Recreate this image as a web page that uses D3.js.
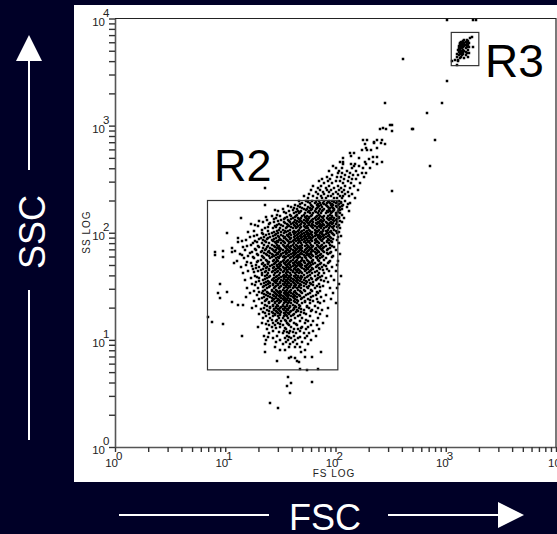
<!DOCTYPE html>
<html>
<head>
<title>FSC / SSC</title>
<meta charset="utf-8">
<script src="https://cdnjs.cloudflare.com/ajax/libs/d3/7.8.5/d3.min.js"></script>
<style>
  html, body { margin: 0; padding: 0; background: #000027; }
  svg { display: block; font-family: "Liberation Sans", Arial, sans-serif; }
</style>
</head>
<body>
<svg id="graph"></svg>
<script>

var width = 557
var height = 534

// log10 of the channel: [SS, [FS, FS, ...]]
var mainRows = [
  [3.21,[2.45]],[3.12,[2.83]],[3.01,[2.49,2.51]],[2.98,[2.43]],[2.97,[2.40,2.46,2.69,2.70]],[2.95,[2.51]],
  [2.87,[2.25,2.29,2.38,2.42,2.90]],[2.85,[2.35]],[2.84,[2.35,2.41]],[2.83,[2.27,2.45]],
  [2.79,[2.28,2.38]],[2.77,[2.24,2.29,2.32]],[2.74,[2.13,2.17]],[2.72,[2.14]],
  [2.71,[2.34,2.38]],[2.70,[2.07,2.21]],[2.69,[2.30]],
  [2.66,[2.04,2.07,2.27,2.34,2.42]],
  [2.64,[2.07,2.14,2.18,2.28,2.38]],
  [2.62,[1.98,2.17,2.21,2.86]],
  [2.60,[2.00,2.06,2.15,2.25,2.31]],
  [2.58,[1.94,2.03,2.10,2.19]],
  [2.56,[2.02,2.06,2.13,2.24,2.28]],
  [2.54,[1.97,2.09,2.16,2.20]],
  [2.52,[1.92,2.01,2.05,2.12,2.26]],
  [2.50,[1.88,1.95,2.08,2.15,2.19]],
  [2.48,[1.85,1.93,2.00,2.04,2.11]],
  [2.46,[1.90,1.97,2.07,2.14,2.22]],
  [2.44,[1.80,1.87,1.94,2.02,2.09,2.17]],
  [2.42,[1.36,1.84,1.91,1.99,2.05,2.13]],
  [2.40,[1.78,1.86,1.92,1.96,2.03,2.08,2.20]],
  [2.39,[2.51]],
  [2.38,[1.82,1.89,1.94,2.00,2.06,2.11]],
  [2.36,[1.76,1.84,1.90,1.98,2.02,2.09,2.15]],
  [2.34,[1.71,1.80,1.87,1.93,1.96,2.04,2.07,2.12]],
  [2.32,[1.75,1.83,1.88,1.91,1.99,2.01,2.06,2.18]],
  [2.30,[1.67,1.73,1.79,1.85,1.90,1.94,1.97,2.03,2.09]],
  [2.28,[1.70,1.77,1.81,1.86,1.89,1.92,1.95,2.00,2.05,2.13]],
  [2.26,[1.36,1.63,1.72,1.78,1.83,1.87,1.91,1.96,1.98,2.02,2.07]],
  [2.24,[1.60,1.68,1.75,1.80,1.84,1.88,1.93,1.97,2.01,2.04,2.10]],
  [2.22,[1.52,1.65,1.71,1.74,1.79,1.82,1.86,1.90,1.94,1.99,2.03,2.06]],
  [2.20,[1.48,1.58,1.66,1.69,1.76,1.81,1.85,1.88,1.92,1.95,1.98,2.02,2.12]],
  [2.18,[1.55,1.62,1.67,1.72,1.77,1.80,1.84,1.87,1.91,1.96,2.00,2.04]],
  [2.16,[1.42,1.50,1.60,1.64,1.70,1.74,1.78,1.83,1.86,1.90,1.93,1.97,2.01]],
  [2.14,[1.14,1.46,1.54,1.61,1.66,1.69,1.73,1.76,1.81,1.85,1.89,1.92,1.95,1.99,2.03,2.08]],
  [2.12,[1.38,1.51,1.57,1.63,1.68,1.71,1.75,1.79,1.82,1.87,1.90,1.94,1.98,2.00]],
  [2.10,[1.34,1.44,1.53,1.59,1.62,1.67,1.70,1.74,1.77,1.80,1.84,1.88,1.91,1.96,2.01,2.06]],
  [2.08,[1.23,1.40,1.49,1.56,1.60,1.65,1.69,1.72,1.76,1.79,1.83,1.86,1.89,1.93,1.97,2.00]],
  [2.06,[1.30,1.45,1.52,1.58,1.63,1.66,1.71,1.74,1.78,1.81,1.85,1.88,1.92,1.95,1.99,2.02]],
  [2.04,[1.36,1.43,1.50,1.55,1.61,1.64,1.68,1.73,1.75,1.80,1.83,1.87,1.90,1.94,1.98,2.04]],
  [2.02,[1.26,1.39,1.47,1.54,1.57,1.62,1.66,1.70,1.74,1.77,1.82,1.84,1.89,1.91,1.96,2.00]],
  [2.00,[1.02,1.33,1.42,1.48,1.53,1.59,1.63,1.67,1.71,1.75,1.78,1.81,1.86,1.88,1.93,1.97,2.01]],
  [1.98,[1.29,1.37,1.45,1.51,1.56,1.60,1.65,1.69,1.72,1.76,1.79,1.83,1.85,1.90,1.94,1.99]],
  [1.96,[1.22,1.35,1.41,1.49,1.54,1.58,1.62,1.66,1.70,1.73,1.77,1.80,1.84,1.87,1.91,1.95,2.02]],
  [1.95,[1.12]],
  [1.94,[1.31,1.38,1.44,1.50,1.55,1.59,1.63,1.67,1.71,1.74,1.78,1.82,1.86,1.89,1.93,1.98]],
  [1.92,[1.15,1.27,1.36,1.43,1.47,1.52,1.57,1.61,1.64,1.68,1.72,1.76,1.79,1.83,1.88,1.92,1.96]],
  [1.91,[1.12]],
  [1.90,[1.25,1.33,1.40,1.46,1.51,1.54,1.58,1.62,1.66,1.69,1.73,1.77,1.81,1.85,1.90,1.94,2.03]],
  [1.88,[1.20,1.30,1.39,1.44,1.49,1.53,1.56,1.60,1.65,1.68,1.72,1.75,1.80,1.84,1.87,1.91,1.97]],
  [1.86,[1.06,1.34,1.41,1.47,1.50,1.55,1.59,1.63,1.67,1.70,1.74,1.78,1.82,1.86,1.89,1.95]],
  [1.84,[1.18,1.28,1.36,1.43,1.46,1.52,1.57,1.61,1.64,1.69,1.72,1.76,1.79,1.83,1.88,1.92,2.00]],
  [1.83,[0.98]],
  [1.82,[0.91,1.06,1.24,1.32,1.39,1.45,1.49,1.54,1.58,1.62,1.66,1.71,1.74,1.78,1.81,1.85,1.90,1.96]],
  [1.80,[1.13,1.29,1.37,1.42,1.48,1.51,1.55,1.60,1.63,1.68,1.70,1.75,1.77,1.82,1.87,1.93,2.04]],
  [1.79,[0.91]],
  [1.78,[1.21,1.33,1.40,1.44,1.50,1.53,1.57,1.61,1.65,1.67,1.72,1.76,1.80,1.84,1.89,1.98]],
  [1.77,[0.98]],
  [1.76,[1.17,1.26,1.35,1.41,1.46,1.49,1.54,1.59,1.62,1.66,1.70,1.73,1.78,1.83,1.86,1.91]],
  [1.74,[1.11,1.30,1.38,1.43,1.48,1.52,1.56,1.60,1.64,1.69,1.71,1.75,1.79,1.85,1.95,2.02]],
  [1.72,[1.08,1.23,1.34,1.39,1.45,1.50,1.53,1.58,1.61,1.65,1.68,1.72,1.77,1.81,1.87,1.93]],
  [1.70,[1.19,1.28,1.36,1.42,1.47,1.51,1.55,1.59,1.63,1.67,1.70,1.74,1.78,1.84,1.90,2.01]],
  [1.68,[1.14,1.31,1.38,1.44,1.49,1.52,1.57,1.60,1.64,1.69,1.73,1.76,1.82,1.88,1.97]],
  [1.66,[1.25,1.34,1.40,1.46,1.50,1.54,1.58,1.62,1.66,1.71,1.75,1.80,1.86,1.92]],
  [1.64,[1.21,1.30,1.37,1.43,1.48,1.53,1.56,1.61,1.65,1.68,1.72,1.77,1.83,1.94,2.00]],
  [1.62,[1.16,1.33,1.39,1.45,1.50,1.55,1.59,1.63,1.67,1.70,1.74,1.79,1.85,1.90]],
  [1.60,[1.27,1.36,1.41,1.47,1.52,1.54,1.58,1.62,1.66,1.69,1.75,1.81,1.88,1.96,2.05]],
  [1.58,[1.23,1.31,1.38,1.44,1.49,1.53,1.57,1.60,1.64,1.68,1.72,1.78,1.84,1.91]],
  [1.56,[1.18,1.34,1.42,1.46,1.51,1.55,1.59,1.62,1.66,1.71,1.76,1.82,1.87,1.99]],
  [1.54,[1.28,1.37,1.40,1.45,1.50,1.54,1.57,1.61,1.65,1.70,1.74,1.80,1.93]],
  [1.52,[0.95,1.24,1.32,1.39,1.43,1.48,1.52,1.56,1.60,1.63,1.68,1.73,1.78,1.85,2.03]],
  [1.50,[1.35,1.41,1.46,1.51,1.55,1.58,1.62,1.67,1.71,1.76,1.83,1.89]],
  [1.48,[1.20,1.30,1.38,1.44,1.49,1.53,1.57,1.61,1.65,1.69,1.75,1.81,1.95,2.01]],
  [1.46,[1.26,1.34,1.42,1.47,1.50,1.54,1.59,1.63,1.68,1.72,1.79,1.86]],
  [1.45,[1.02]],
  [1.44,[0.93,1.22,1.33,1.39,1.45,1.49,1.53,1.56,1.60,1.64,1.70,1.77,1.84,1.98]],
  [1.42,[1.29,1.37,1.43,1.47,1.51,1.55,1.58,1.62,1.67,1.73,1.82,1.91]],
  [1.40,[1.19,1.35,1.41,1.46,1.50,1.53,1.57,1.61,1.65,1.71,1.78,1.87]],
  [1.39,[0.95]],
  [1.38,[1.31,1.38,1.44,1.48,1.52,1.55,1.59,1.63,1.69,1.75,1.83,1.96]],
  [1.36,[1.26,1.36,1.42,1.47,1.51,1.54,1.58,1.62,1.66,1.72,1.80,1.90]],
  [1.35,[1.06]],
  [1.34,[1.33,1.40,1.45,1.49,1.53,1.57,1.60,1.65,1.70,1.77,1.86,2.00]],
  [1.33,[1.12,1.16]],
  [1.32,[1.28,1.38,1.43,1.48,1.52,1.56,1.59,1.63,1.68,1.74,1.81]],
  [1.30,[1.24,1.35,1.41,1.46,1.50,1.54,1.58,1.62,1.67,1.76,1.84,1.93]],
  [1.28,[1.38,1.44,1.49,1.53,1.57,1.61,1.65,1.71,1.79,1.88]],
  [1.26,[1.34,1.42,1.47,1.51,1.55,1.59,1.64,1.69,1.82]],
  [1.24,[1.31,1.40,1.45,1.50,1.54,1.58,1.62,1.73,1.86]],
  [1.22,[1.37,1.43,1.48,1.53,1.56,1.60,1.66,1.77,1.92]],
  [1.21,[0.84]],
  [1.20,[1.34,1.41,1.49,1.52,1.57,1.63,1.70,1.84]],
  [1.18,[1.39,1.46,1.51,1.55,1.59,1.68,1.75,1.80]],
  [1.17,[0.88]],
  [1.16,[1.33,1.43,1.48,1.56,1.62,1.72,1.89]],
  [1.15,[0.98]],
  [1.14,[1.40,1.45,1.52,1.58,1.65,1.78,1.83]],
  [1.12,[1.30,1.42,1.50,1.60,1.70,1.75]],
  [1.10,[1.38,1.55,1.62,1.66,1.73,1.85]],
  [1.08,[1.43,1.53,1.59,1.68,1.80]],
  [1.06,[1.40,1.52,1.58,1.64,1.71,1.76]],
  [1.04,[1.15,1.35,1.47,1.56,1.62,1.74,1.82]],
  [1.02,[1.43,1.54,1.60,1.66,1.72]],
  [1.00,[1.37,1.50,1.57,1.63,1.78]],
  [0.98,[1.46,1.55,1.61,1.70]],
  [0.96,[1.36,1.52,1.59,1.65,1.75]],
  [0.93,[1.45,1.58,1.63,1.68]],
  [0.91,[1.50,1.54,1.72]],
  [0.89,[1.36,1.69,1.87]],
  [0.84,[1.60,1.72,1.79]],
  [0.83,[1.58,1.63]],
  [0.80,[1.47,1.65]],
  [0.79,[1.67]],
  [0.73,[1.68,1.84]],
  [0.72,[1.74]],
  [0.65,[1.57]],
  [0.61,[1.79]],
  [0.60,[1.60]],
  [0.57,[1.56]],
  [0.50,[1.59]],
  [0.41,[1.41]],
  [0.36,[1.48]]
]

// second pass over the dense core, the rows between the ones above
var coreRows = [
  [2.29,[1.75,1.82,1.93,1.99,2.01,2.05]],
  [2.27,[1.68,1.84,1.90,1.97,2.03,2.11]],
  [2.25,[1.57,1.66,1.79,1.85,1.92,2.00,2.06]],
  [2.23,[1.62,1.70,1.77,1.83,1.95,1.98]],
  [2.21,[1.45,1.61,1.73,1.78,1.89,1.94,1.99,2.04]],
  [2.19,[1.53,1.64,1.68,1.75,1.82,1.93,1.97,2.02]],
  [2.17,[1.47,1.59,1.65,1.71,1.79,1.85,1.95,2.00,2.06]],
  [2.15,[1.37,1.56,1.63,1.72,1.76,1.82,1.88,1.97,2.03]],
  [2.13,[1.44,1.53,1.60,1.67,1.74,1.80,1.84,1.93,1.96,2.01]],
  [2.11,[1.31,1.48,1.58,1.65,1.69,1.73,1.78,1.86,1.89,1.99,2.04]],
  [2.09,[1.41,1.54,1.61,1.64,1.71,1.75,1.82,1.85,1.92,1.95,1.98]],
  [2.07,[1.27,1.47,1.51,1.57,1.62,1.68,1.76,1.80,1.87,1.90,1.94,2.03]],
  [2.05,[1.39,1.46,1.56,1.60,1.65,1.69,1.72,1.79,1.83,1.86,1.91,1.97,2.01]],
  [2.03,[1.33,1.49,1.52,1.59,1.67,1.71,1.76,1.81,1.85,1.89,1.93,1.99]],
  [2.01,[1.21,1.44,1.51,1.55,1.61,1.64,1.69,1.73,1.79,1.83,1.87,1.92,1.95,2.03]],
  [1.99,[1.34,1.40,1.46,1.58,1.62,1.66,1.70,1.74,1.77,1.82,1.88,1.91,1.98]],
  [1.97,[1.26,1.43,1.48,1.52,1.57,1.63,1.68,1.71,1.75,1.81,1.86,1.89,1.93,2.05]],
  [1.95,[1.32,1.39,1.46,1.53,1.60,1.65,1.69,1.72,1.76,1.79,1.85,1.90,1.96]],
  [1.93,[1.19,1.34,1.42,1.49,1.51,1.56,1.62,1.66,1.70,1.74,1.78,1.81,1.87,1.94,2.01]],
  [1.91,[1.29,1.37,1.45,1.48,1.53,1.59,1.60,1.67,1.71,1.75,1.82,1.84,1.92,1.97]],
  [1.89,[1.23,1.35,1.42,1.47,1.52,1.57,1.61,1.64,1.70,1.74,1.78,1.83,1.88,1.95]],
  [1.87,[1.16,1.31,1.38,1.45,1.48,1.54,1.58,1.62,1.66,1.69,1.76,1.79,1.85,1.90,1.99]],
  [1.85,[1.27,1.37,1.42,1.49,1.51,1.56,1.60,1.65,1.68,1.73,1.77,1.81,1.87,1.93]],
  [1.83,[1.09,1.33,1.40,1.44,1.50,1.55,1.59,1.63,1.67,1.70,1.75,1.80,1.84,1.89]],
  [1.81,[1.22,1.35,1.41,1.47,1.52,1.56,1.61,1.64,1.69,1.73,1.78,1.83,1.92,1.95]],
  [1.79,[1.15,1.30,1.38,1.43,1.46,1.51,1.58,1.62,1.66,1.71,1.74,1.79,1.86]],
  [1.77,[1.25,1.34,1.42,1.48,1.52,1.55,1.60,1.64,1.68,1.72,1.77,1.82,1.88,1.97]],
  [1.75,[1.32,1.37,1.44,1.47,1.53,1.57,1.61,1.65,1.70,1.74,1.80,1.84,1.90]],
  [1.73,[1.20,1.29,1.40,1.46,1.51,1.55,1.59,1.63,1.67,1.71,1.76,1.79,1.94]],
  [1.71,[1.33,1.39,1.44,1.49,1.54,1.57,1.62,1.66,1.69,1.75,1.80,1.86]],
  [1.69,[1.24,1.35,1.41,1.47,1.50,1.56,1.61,1.65,1.68,1.72,1.77,1.83,1.91]],
  [1.67,[1.28,1.37,1.43,1.48,1.53,1.55,1.59,1.63,1.70,1.74,1.79,1.85]],
  [1.65,[1.32,1.40,1.45,1.51,1.56,1.60,1.64,1.67,1.73,1.78,1.89]],
  [1.63,[1.26,1.36,1.42,1.47,1.52,1.57,1.61,1.65,1.69,1.76,1.81]],
  [1.61,[1.33,1.38,1.44,1.49,1.53,1.56,1.60,1.64,1.71,1.77,1.84]],
  [1.59,[1.29,1.40,1.46,1.51,1.55,1.59,1.63,1.66,1.70,1.74,1.86]],
  [1.57,[1.36,1.43,1.48,1.53,1.57,1.61,1.65,1.69,1.79,1.83]],
  [1.55,[1.31,1.39,1.44,1.47,1.52,1.56,1.60,1.64,1.68,1.73,1.90]],
  [1.53,[1.35,1.41,1.46,1.50,1.54,1.58,1.62,1.66,1.71,1.77]],
  [1.51,[1.27,1.37,1.43,1.48,1.53,1.56,1.60,1.64,1.69,1.80]],
  [1.49,[1.34,1.40,1.45,1.50,1.55,1.59,1.63,1.67,1.74,1.86]],
  [1.47,[1.36,1.42,1.46,1.52,1.56,1.60,1.66,1.71,1.78]],
  [1.45,[1.31,1.38,1.44,1.48,1.51,1.55,1.58,1.62,1.69,1.83]],
  [1.43,[1.35,1.41,1.46,1.50,1.54,1.57,1.61,1.65,1.75]],
  [1.41,[1.39,1.44,1.49,1.52,1.56,1.60,1.63,1.68,1.80]],
  [1.39,[1.33,1.42,1.46,1.51,1.54,1.57,1.62,1.70]],
  [1.37,[1.37,1.43,1.49,1.53,1.56,1.60,1.65,1.77]],
  [1.35,[1.40,1.45,1.50,1.55,1.58,1.63,1.72,1.84]],
  [1.33,[1.36,1.43,1.47,1.52,1.56,1.61,1.67]],
  [1.31,[1.41,1.46,1.51,1.54,1.59,1.64,1.74]],
  [1.29,[1.32,1.44,1.48,1.52,1.56,1.62,1.69]],
  [1.27,[1.40,1.46,1.50,1.55,1.60,1.66,1.78]],
  [1.25,[1.36,1.43,1.48,1.53,1.57,1.71]],
  [1.23,[1.45,1.50,1.55,1.61,1.68]],
  [1.19,[1.42,1.47,1.54,1.60,1.73]],
  [1.15,[1.37,1.50,1.57,1.64]],
  [1.11,[1.46,1.54,1.69]],
  [1.07,[1.49,1.56,1.61]],
  [1.03,[1.39,1.58,1.68]]
]

// the tight group inside R3 and the few events around it
var r3Rows = [
  [3.99,[3.01,3.25,3.27]],
  [3.83,[3.24]],[3.82,[3.22]],[3.80,[3.17,3.19]],[3.79,[3.16,3.20]],[3.78,[3.14,3.16,3.18]],
  [3.77,[3.13,3.17,3.19,3.21]],[3.76,[3.13,3.15,3.17]],[3.75,[3.14,3.16,3.18,3.20]],
  [3.74,[3.12,3.15,3.17]],[3.73,[3.13,3.16,3.19,3.21,3.25]],[3.72,[3.12,3.14,3.15,3.18]],
  [3.71,[3.11,3.13,3.16,3.20]],[3.70,[3.13,3.15,3.17]],[3.69,[3.12,3.14,3.16,3.18]],
  [3.68,[3.13,3.15,3.19,3.21]],[3.67,[3.10,3.14,3.16]],[3.66,[3.12,3.15,3.18]],
  [3.64,[3.10,3.14,3.20]],[3.63,[3.13,3.17]],[3.62,[2.61]],[3.61,[3.08,3.11]],[3.60,[3.06,3.11]],[3.57,[3.10]],
  [3.42,[3.01]],[3.21,[2.97]]
]

var decades = [0, 1, 2, 3, 4]
var tickMults = [1, 2, 3, 4, 5, 6, 7, 8, 9]
var tickLabels = ["10", "10", "10", "10", "10"]

// gates as [FS low, FS high, SS low, SS high], channel values
var gateNames = ["R2", "R3"]
var gateFs = [[6.9, 105], [1122, 1995]]
var gateSs = [[5.25, 200], [3631, 7413]]

var navy = "#000027"
var axisGrey = "#555"

var svg = d3.select("#graph")
  .attr("width", width)
  .attr("height", height)

svg.append("rect").attr("width", width).attr("height", height).attr("fill", navy)
svg.append("rect")
  .attr("x", 74).attr("y", 5)
  .attr("width", width - 74).attr("height", 477)
  .attr("fill", "white")

var x = d3.scaleLog().domain([1, 10000]).range([115, 556])
var y = d3.scaleLog().domain([1, 10000]).range([447, 18.5])

function allTicks() {
  var t = []
  decades.forEach(function(d) {
    tickMults.forEach(function(m) {
      var v = m * Math.pow(10, d)
      if (v <= 10000) t.push(v)
    })
  })
  return t
}

var gx = svg.append("g").attr("transform", "translate(0,447)")
  .call(d3.axisBottom(x).tickValues(allTicks()).tickFormat("").tickSize(5).tickSizeOuter(0))
var gy = svg.append("g").attr("transform", "translate(115,0)")
  .call(d3.axisLeft(y).tickValues(allTicks()).tickFormat("").tickSize(6).tickSizeOuter(0))
gx.selectAll("line,path").attr("stroke", "#333").attr("stroke-width", 1.4)
gy.selectAll("line,path").attr("stroke", "#333").attr("stroke-width", 1.4)
gx.selectAll("path").attr("stroke", axisGrey).attr("stroke-width", 1.6)
gy.selectAll("path").attr("stroke", axisGrey).attr("stroke-width", 1.6)

// frame on top and right
svg.append("path")
  .attr("d", "M115,18.5H556V447")
  .attr("fill", "none")
  .attr("stroke", "#222")
  .attr("stroke-width", 1.2)

function flatten(rows) {
  var out = []
  rows.forEach(function(r) {
    r[1].forEach(function(fs) { out.push({fs: Math.pow(10, fs), ss: Math.pow(10, r[0])}) })
  })
  return out
}

svg.append("g").selectAll("rect")
  .data(flatten(mainRows).concat(flatten(coreRows), flatten(r3Rows)))
  .enter().append("rect")
  .attr("x", function(d) { return Math.round(x(d.fs)) - 1.25 })
  .attr("y", function(d) { return Math.round(y(d.ss)) - 1.25 })
  .attr("width", 2.5)
  .attr("height", 2.5)
  .attr("fill", "black")

// gates
gateNames.forEach(function(name, i) {
  svg.append("rect")
    .attr("x", x(gateFs[i][0]))
    .attr("y", y(gateSs[i][1]))
    .attr("width", x(gateFs[i][1]) - x(gateFs[i][0]))
    .attr("height", y(gateSs[i][0]) - y(gateSs[i][1]))
    .attr("fill", "none")
    .attr("stroke", "#333")
    .attr("stroke-width", 1.2)
})

// decade labels, a plain 10 with the exponent raised beside it
decades.forEach(function(d, i) {
  var v = Math.pow(10, d)
  var ly = svg.append("g").attr("fill", "#222").style("font-size", "11.5px")
  ly.append("text").attr("x", 105).attr("y", y(v) + 7).attr("text-anchor", "end").text(tickLabels[i])
  ly.append("text").attr("x", 103).attr("y", y(v) - 2).text(d)
  var lx = svg.append("g").attr("fill", "#222").style("font-size", "11.5px")
  if (d < 4) {
    lx.append("text").attr("x", x(v) + 3).attr("y", 467).attr("text-anchor", "end").text(tickLabels[i])
    lx.append("text").attr("x", x(v) + 1).attr("y", 460).text(d)
  } else {
    lx.append("text").attr("x", x(v) - 8).attr("y", 467).text(tickLabels[i])
  }
})

svg.append("text")
  .attr("x", 334).attr("y", 477)
  .attr("text-anchor", "middle")
  .attr("fill", "#222")
  .style("font-size", "10px").style("letter-spacing", "1px")
  .text("FS LOG")
svg.append("text")
  .attr("transform", "translate(90,232) rotate(-90)")
  .attr("text-anchor", "middle")
  .attr("fill", "#222")
  .style("font-size", "10px").style("letter-spacing", "1px")
  .text("SS LOG")

svg.append("text").attr("x", 214).attr("y", 181).attr("fill", "#000").style("font-size", "45px").text("R2")
svg.append("text").attr("x", 485).attr("y", 77).attr("fill", "#000").style("font-size", "46px").text("R3")

// outer labels and arrows on the navy part
svg.append("text")
  .attr("x", 325).attr("y", 530)
  .attr("text-anchor", "middle")
  .attr("fill", "white")
  .style("font-size", "36px")
  .text("FSC")
svg.append("text")
  .attr("transform", "translate(45,232) rotate(-90)")
  .attr("text-anchor", "middle")
  .attr("fill", "white")
  .style("font-size", "36px")
  .text("SSC")

var arrowLines = [[119, 515, 269, 515], [388, 515, 500, 515], [29, 170, 29, 60], [29, 290, 29, 440]]
svg.append("g").selectAll("line")
  .data(arrowLines)
  .enter().append("line")
  .attr("x1", function(d) { return d[0] })
  .attr("y1", function(d) { return d[1] })
  .attr("x2", function(d) { return d[2] })
  .attr("y2", function(d) { return d[3] })
  .attr("stroke", "white")
  .attr("stroke-width", 2)
svg.append("path").attr("d", "M524,515L498,502V528Z").attr("fill", "white")
svg.append("path").attr("d", "M29,35L16,61H42Z").attr("fill", "white")

</script>
</body>
</html>
